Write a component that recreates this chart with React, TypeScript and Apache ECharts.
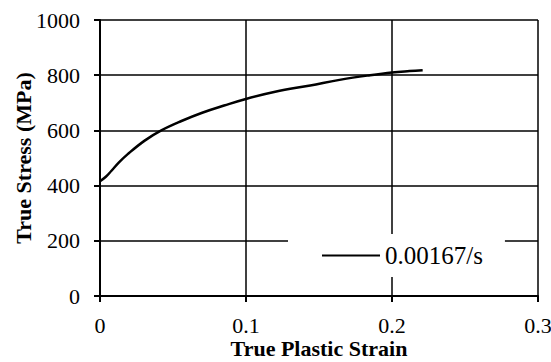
import React, { useEffect, useRef } from "react";
import * as echarts from "echarts";

const seriesName = "0.00167/s";
const strain = [0, 0.004, 0.0077, 0.013, 0.019, 0.0306, 0.042, 0.0558, 0.07, 0.085, 0.0999, 0.12, 0.144, 0.165, 0.185, 0.2, 0.212, 0.221];
const stress = [416, 432, 453, 484, 514, 563, 600, 634, 664, 690, 714, 740, 763, 784, 800, 810, 815, 818];
const xTitle = "True Plastic Strain";
const yTitle = "True Stress (MPa)";

const FONT = "Liberation Serif";

export default function App() {
  const ref = useRef<HTMLDivElement>(null);
  useEffect(() => {
    document.body.style.margin = "0";
    if (!ref.current) return;
    const chart = echarts.init(ref.current, undefined, { renderer: "svg" });
    const axisCommon = {
      axisLine: { show: true, lineStyle: { color: "#000", width: 2 } },
      axisTick: { show: true, inside: false, length: 6, lineStyle: { color: "#000", width: 2 } },
      splitLine: { show: true, lineStyle: { color: "#000", width: 1.5 } },
      nameMoveOverlap: false,
      nameTextStyle: { fontFamily: FONT, fontSize: 22, fontWeight: "bold", color: "#000", lineHeight: 20 },
    };
    chart.setOption({
      animation: false,
      backgroundColor: "#fff",
      textStyle: { fontFamily: FONT },
      grid: { left: 100, right: 13, top: 20, bottom: 66, containLabel: false, outerBoundsMode: "none" },
      xAxis: {
        type: "value",
        min: 0,
        max: 0.3,
        interval: 0.1,
        name: xTitle,
        nameLocation: "middle",
        nameGap: 42,
        ...axisCommon,
        axisLabel: { fontFamily: FONT, fontSize: 22, color: "#000", margin: 20, lineHeight: 18, formatter: (v: number) => String(Math.round(v * 10) / 10) },
      },
      yAxis: {
        type: "value",
        min: 0,
        max: 1000,
        interval: 200,
        name: yTitle,
        nameLocation: "middle",
        nameGap: 67,
        ...axisCommon,
        axisLabel: { fontFamily: FONT, fontSize: 22, color: "#000", margin: 20, formatter: (v: number) => String(v) },
      },
      legend: {
        show: true,
        left: 288,
        top: 234,
        orient: "horizontal",
        backgroundColor: "#fff",
        padding: [8, 22, 8, 34],
        itemWidth: 58,
        itemHeight: 2,
        itemGap: 5,
        icon: "rect",
        data: [seriesName],
        itemStyle: { color: "#000" },
        textStyle: { fontFamily: FONT, fontSize: 25, color: "#000", lineHeight: 27 },
      },
      series: [
        {
          name: seriesName,
          type: "line",
          data: strain.map((s, i) => [s, stress[i]]),
          smooth: 0.4,
          showSymbol: false,
          symbol: "none",
          lineStyle: { color: "#000", width: 2.5 },
          itemStyle: { color: "#000" },
        },
      ],
    });
    return () => chart.dispose();
  }, []);
  return <div ref={ref} style={{ width: 551, height: 362 }} />;
}
